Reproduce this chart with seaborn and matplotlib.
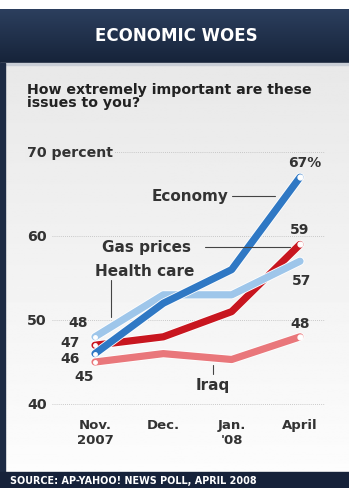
import numpy as np
import pandas as pd
import matplotlib
matplotlib.use("Agg")
import matplotlib.pyplot as plt
import matplotlib.patheffects as pe
from matplotlib.patches import Rectangle
import seaborn as sns

# ---------------------------------------------------------------
# Datos
# ---------------------------------------------------------------
months = ["Nov.\n2007", "Dec.", "Jan.\n'08", "April"]
economy = [46, 52, 56, 67]
health_care = [48, 53, 53, 57]
gas_prices = [47, 48, 51, 59]
iraq = [45, 46, 45.3, 48]

series_names = ["Iraq", "Gas prices", "Health care", "Economy"]
series_values = [iraq, gas_prices, health_care, economy]
colors = {"Economy": "#2f78c4", "Health care": "#9ec6ea",
          "Gas prices": "#c8161f", "Iraq": "#e9777b"}

rows = []
for name, vals in zip(series_names, series_values):
    for i, v in enumerate(vals):
        rows.append({"issue": name, "pos": i, "value": v})
df = pd.DataFrame(rows)

sns.set_style("white")
plt.rcParams["font.family"] = ["DejaVu Sans"]

W, H = 349, 489
fig = plt.figure(figsize=(W / 100, H / 100), dpi=100)
fig.patch.set_facecolor("white")

def px(x0, y0, x1, y1):
    return [x0 / W, 1 - y1 / H, (x1 - x0) / W, (y1 - y0) / H]

# fondo del panel con degradado
bg = fig.add_axes(px(0, 62, 349, 474))
grad = np.linspace(0.91, 0.99, 256).reshape(-1, 1)
bg.imshow(grad, aspect="auto", cmap="gray", vmin=0, vmax=1, extent=[0, 1, 0, 1])
bg.set_axis_off()

# cabecera
hdr = fig.add_axes(px(0, 10, 349, 64))
hgrad = np.linspace(0, 1, 256).reshape(-1, 1)
hdr.imshow(hgrad, aspect="auto", extent=[0, 1, 0, 1],
           cmap=matplotlib.colors.LinearSegmentedColormap.from_list("h", ["#2c3f5e", "#162339"]))
hdr.set_axis_off()
fig.text(176 / W, 1 - 36 / H, "ECONOMIC WOES", color="white", fontsize=12,
         fontweight="bold", ha="center", va="center")
fig.patches.append(Rectangle((0, 1 - 66 / H), 1, 2 / H, transform=fig.transFigure,
                             color="#c9ced6", zorder=5))
# borde izquierdo
fig.patches.append(Rectangle((0, 1 - 474 / H), 5 / W, (474 - 64) / H, transform=fig.transFigure,
                             color="#1d2b44", zorder=5))
# pie
fig.patches.append(Rectangle((0, 0), 1, 16 / H, transform=fig.transFigure,
                             color="#16223a", zorder=5))
fig.text(10 / W, 8 / H, "SOURCE: AP-YAHOO! NEWS POLL, APRIL 2008", color="white",
         fontsize=6.9, fontweight="bold", va="center", ha="left", zorder=6)

fig.text(27 / W, 1 - 83 / H, "How extremely important are these\nissues to you?",
         fontsize=10.2, fontweight="bold", color="#222222", va="top", ha="left",
         linespacing=0.95)

# ---------------------------------------------------------------
# Gráfico de líneas
# ---------------------------------------------------------------
ax = fig.add_axes(px(52, 140, 325, 412))
ax.patch.set_alpha(0)
ax.set_xlim(-0.629, 3.366)
ax.set_ylim(71.55 - 272 / 8.4, 71.55)

for name in series_names:
    sub = df[df["issue"] == name]
    sns.lineplot(data=sub, x="pos", y="value", ax=ax, color=colors[name],
                 linewidth=5.2, solid_capstyle="round", solid_joinstyle="round",
                 path_effects=[pe.Stroke(linewidth=6.4, foreground="white"), pe.Normal()],
                 legend=False)
    last = sub.iloc[-1]
    if name != "Health care":
        ax.plot(last["pos"], last["value"], "o", ms=3.5, mfc="white",
                mec="white", zorder=10)
    first = sub.iloc[0]
    ax.plot(first["pos"], first["value"], "o", ms=2.5, mfc="white", mec="white", zorder=10)

for s in ax.spines.values():
    s.set_visible(False)
ax.set_yticks([40, 50, 60, 70])
ax.set_yticklabels([])
ax.yaxis.grid(True, color="#bbbbbb", linestyle=(0, (1, 1.5)), linewidth=0.6)
ax.set_axisbelow(True)
ax.set_xticks(range(len(months)))
ax.set_xticklabels(months, fontsize=9.5, fontweight="bold", color="#333333",
                   linespacing=1.25, va="top")
ax.tick_params(axis="both", length=0)
ax.tick_params(axis="x", pad=5)
ax.set_xlabel("")
ax.set_ylabel("")

tr = matplotlib.transforms.blended_transform_factory(fig.transFigure, ax.transData)
for v in [40, 50, 60, 70]:
    lab = "70 percent" if v == 70 else str(v)
    box = dict(boxstyle="square,pad=0.15", fc="#ececec", ec="none") if v == 70 else None
    ax.text(27 / W, v, lab, transform=tr, fontsize=10.2, fontweight="bold",
            color="#333333", va="center", ha="left", bbox=box)

# etiquetas de valores
vfont = dict(fontsize=10, fontweight="bold", color="#333333", ha="center", va="center")
ax.text(3.07, 68.8, "67%", **vfont)
ax.text(3.0, 60.8, str(gas_prices[-1]), **vfont)
ax.text(3.03, 54.8, str(health_care[-1]), **vfont)
ax.text(3.0, 49.6, str(iraq[-1]), **vfont)
ax.text(-0.25, 49.8, str(health_care[0]), **vfont)
ax.text(-0.37, 47.4, str(gas_prices[0]), **vfont)
ax.text(-0.37, 45.5, str(economy[0]), **vfont)
ax.text(-0.16, 43.3, str(iraq[0]), **vfont)

# nombres de series con líneas guía
nfont = dict(fontsize=11, fontweight="bold", color="#333333", va="center")
ax.text(1.39, 64.8, "Economy", ha="center", **nfont)
ax.plot([2.0, 2.63], [64.8, 64.8], color="#444444", lw=0.8)
ax.text(0.75, 58.7, "Gas prices", ha="center", **nfont)
ax.plot([1.61, 2.85], [58.7, 58.7], color="#444444", lw=0.8)
ax.text(0.73, 55.95, "Health care", ha="center", **nfont)
ax.plot([0.234, 0.234], [54.8, 50.4], color="#444444", lw=0.8)
ax.text(1.73, 42.3, "Iraq", ha="center", **nfont)
ax.plot([1.72, 1.72], [44.6, 43.6], color="#444444", lw=0.8)

fig.savefig("out.png", dpi=100)
